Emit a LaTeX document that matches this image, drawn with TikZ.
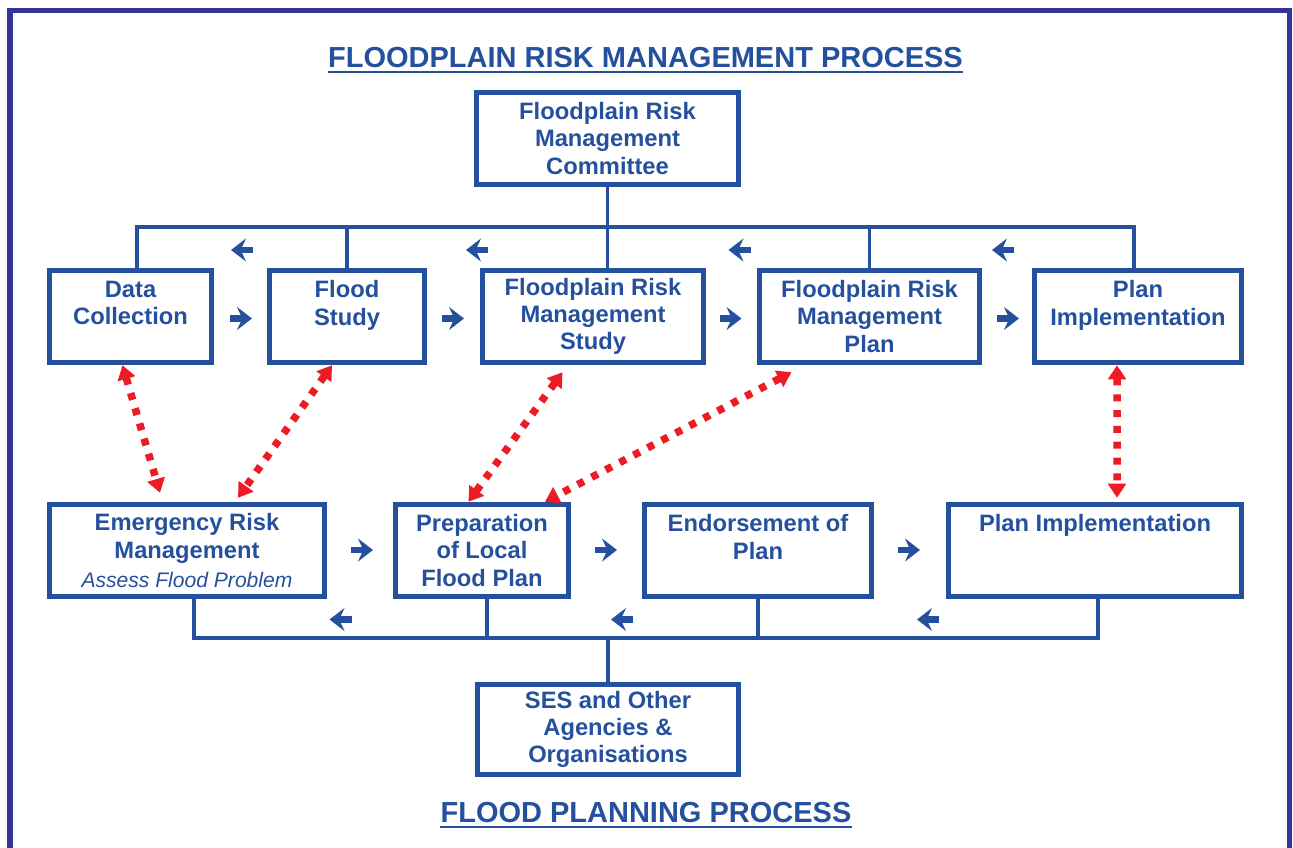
\documentclass[tikz,border=0pt]{standalone}
\usepackage{fontspec}
\setmainfont{Liberation Sans}
\usetikzlibrary{arrows.meta}

\definecolor{fpblue}{RGB}{36,80,158}
\definecolor{fpframe}{RGB}{51,51,153}
\definecolor{fpred}{RGB}{237,28,36}

\tikzset{
  stage/.style={draw=fpblue, line width=0.11cm, text=fpblue, align=center,
    minimum height=1.84cm, inner sep=0pt,
    font=\fontsize{13.5}{15.5}\selectfont\bfseries},
  bus/.style={draw=fpblue, line width=0.07cm},
  flow/.style={fpblue, line width=0.13cm, -{Stealth[length=8.5pt, width=13pt, inset=3pt]}},
  link/.style={fpred, line width=0.15cm, dash pattern=on 4pt off 5pt,
    {Triangle[length=8pt, width=10pt]}-{Triangle[length=8pt, width=10pt]}},
  heading/.style={text=fpblue, inner sep=0pt, anchor=base,
    font=\fontsize{16.5}{19}\selectfont\bfseries},
  uline/.style={draw=fpblue, line width=1.6pt}
}

\begin{document}
\begin{tikzpicture}

    \useasboundingbox (0, 0) rectangle (25.86, -16.94);
    \draw [fpframe, line width=0.1cm] (0.2, -17.5) -- (0.2, -0.2) -- (25.78, -0.2) -- (25.78, -17.5);

    \node [heading] (t1) at (12.91, -1.34) {FLOODPLAIN RISK MANAGEMENT PROCESS};
    \node [heading] (t2) at (12.92, -16.44) {FLOOD PLANNING PROCESS};
    \draw [uline] ([yshift=-2.8pt]t1.base west) -- ([yshift=-2.8pt]t1.base east);
    \draw [uline] ([yshift=-2.8pt]t2.base west) -- ([yshift=-2.8pt]t2.base east);

    \node [stage, minimum width=5.24cm] (com) at (12.15, -2.77) {Floodplain Risk\\Management\\Committee};

    \node [stage, minimum width=3.24cm] (dc) at (2.61, -6.33) {Data\\Collection\\\mbox{}};
    \node [stage, minimum width=3.10cm] (fs) at (6.94, -6.33) {Flood\\Study\\\mbox{}};
    \node [stage, minimum width=4.42cm] (frms) at (11.86, -6.33) {Floodplain Risk\\Management\\Study};
    \node [stage, minimum width=4.40cm] (frmp) at (17.39, -6.33) {Floodplain Risk\\Management\\Plan};
    \node [stage, minimum width=4.14cm] (pi) at (22.76, -6.33) {Plan\\Implementation\\\mbox{}};

    \node [stage, minimum width=5.50cm] (erm) at (3.74, -11.01) {Emergency Risk\\Management\\[1pt]{\fontsize{12}{15.5}\selectfont\mdseries\itshape Assess Flood Problem}};
    \node [stage, minimum width=3.46cm] (plfp) at (9.64, -11.01) {Preparation\\of Local\\Flood Plan};
    \node [stage, minimum width=4.54cm] (eop) at (15.16, -11.01) {Endorsement of\\Plan\\\mbox{}};
    \node [stage, minimum width=5.86cm] (pi2) at (21.90, -11.01) {Plan Implementation\\\mbox{}\\\mbox{}};

    \node [stage, minimum width=5.22cm, minimum height=1.80cm] (ses) at (12.16, -14.59) {SES and Other\\Agencies \&\\Organisations};

    \coordinate (tb) at (12.15, -4.54);
    \coordinate (bb) at (12.14, -12.76);

    \draw [bus] (com.south) -- (com.south |- tb);
    \draw [bus] ([xshift=1.3mm]dc.north) |- ([xshift=-0.8mm]pi.north |- tb) -- ([xshift=-0.8mm]pi.north);
    \draw [bus] (fs.north) -- (fs.north |- tb);
    \draw [bus] (frms.north -| tb) -- (tb);
    \draw [bus] (frmp.north) -- (frmp.north |- tb);

    \draw [bus] ([xshift=1.4mm]erm.south) |- ([xshift=0.6mm]pi2.south |- bb) -- ([xshift=0.6mm]pi2.south);
    \draw [bus] ([xshift=1mm]plfp.south) -- ([xshift=1mm]plfp.south |- bb);
    \draw [bus] (eop.south) -- (eop.south |- bb);
    \draw [bus] (ses.north) -- (ses.north |- bb);

    \draw [flow] (5.06, -5.00) -- (4.62, -5.00);
    \draw [flow] (9.76, -5.00) -- (9.32, -5.00);
    \draw [flow] (15.01, -5.00) -- (14.57, -5.00);
    \draw [flow] (20.28, -5.00) -- (19.84, -5.00);

    \draw [flow] (4.60, -6.37) -- (5.04, -6.37);
    \draw [flow] (8.84, -6.37) -- (9.28, -6.37);
    \draw [flow] (14.39, -6.37) -- (14.83, -6.37);
    \draw [flow] (19.94, -6.37) -- (20.38, -6.37);

    \draw [flow] (7.02, -11.00) -- (7.46, -11.00);
    \draw [flow] (11.90, -11.00) -- (12.34, -11.00);
    \draw [flow] (17.96, -11.00) -- (18.40, -11.00);

    \draw [flow] (7.03, -12.39) -- (6.59, -12.39);
    \draw [flow] (12.66, -12.39) -- (12.22, -12.39);
    \draw [flow] (18.78, -12.39) -- (18.34, -12.39);

    \draw [link] ([xshift=-1.6mm]dc.south) -- ([xshift=-5.4mm, yshift=1.8mm]erm.north);
    \draw [link] ([xshift=-3mm]fs.south) -- ([xshift=10.2mm, yshift=0.8mm]erm.north);
    \draw [link] ([xshift=-6.1mm, yshift=-1.4mm]frms.south) -- ([xshift=-2.7mm]plfp.north);
    \draw [link] ([xshift=-15.6mm, yshift=-1.4mm]frmp.south) -- ([xshift=12.6mm]plfp.north);
    \draw [link] ([xshift=-4.2mm]pi.south) -- ([xshift=4.4mm, yshift=0.8mm]pi2.north);

\end{tikzpicture}
\end{document}
